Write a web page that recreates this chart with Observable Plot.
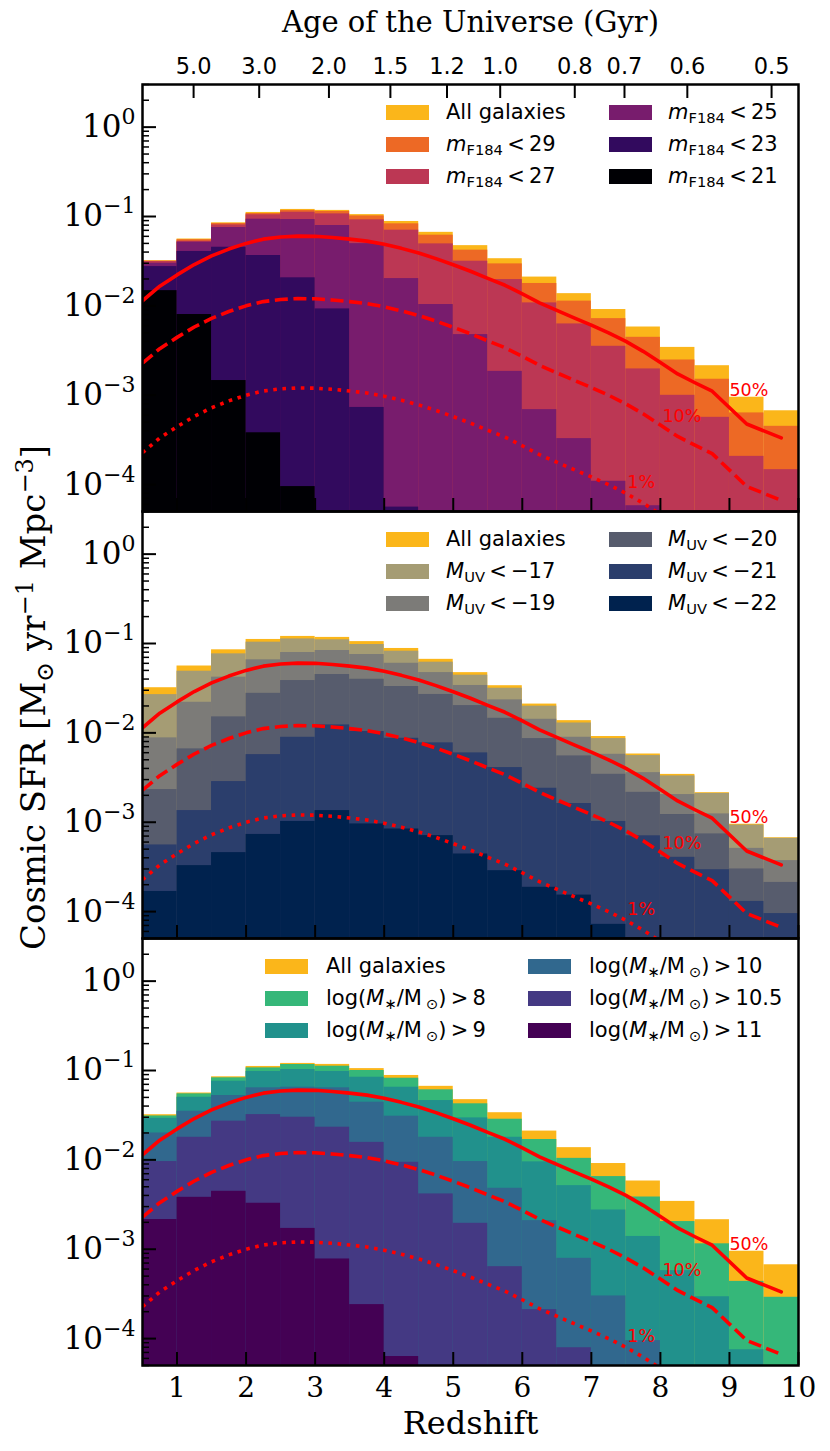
<!DOCTYPE html>
<html><head><meta charset="utf-8">
<script src="https://cdn.jsdelivr.net/npm/d3@7"></script>
<script src="https://cdn.jsdelivr.net/npm/@observablehq/plot@0.6"></script>
<style>
body{margin:0;background:#fff;}
#wrap{position:relative;width:830px;height:1451px;overflow:hidden;}
.leg{position:absolute;font-family:"DejaVu Sans";font-size:21px;line-height:21px;color:#000;white-space:nowrap;}
.sw{position:absolute;width:43px;height:15px;}
.sub{font-size:70%;position:relative;top:0.3em;}
</style></head><body><div id="wrap"></div>
<script>
// ---------- data ----------
const binEdges = [0.5,1.0,1.5,2.0,2.5,3.0,3.5,4.0,4.5,5.0,5.5,6.0,6.5,7.0,7.5,8.0,8.5,9.0,9.5,10.0];
const allGalaxies = [0.032,0.056,0.085,0.111,0.120,0.117,0.105,0.088,0.0665,0.0472,0.0337,0.0210,0.0137,0.0091,0.0058,0.00343,0.00214,0.00095,0.00067];

const mF29 = [0.0317,0.0550,0.0835,0.108,0.117,0.114,0.1015,0.0828,0.0618,0.0420,0.0295,0.0178,0.0113,0.0072,0.00445,0.00248,0.00151,0.000634,0.000449];
const mF27 = [0.0313,0.0529,0.0805,0.1045,0.1117,0.107,0.0918,0.0703,0.0494,0.0316,0.0197,0.0108,0.00628,0.00353,0.00197,0.000998,0.000566,0.000207,0.000147];
const mF25 = [0.0300,0.0516,0.0753,0.0933,0.0925,0.0793,0.0497,0.0202,0.01035,0.00477,0.00185,0.00069,0.000327,0.000109,0.000058,null,null,null,null];
const mF23 = [0.0275,0.0406,0.0453,0.0366,0.0206,0.00925,0.00073,0.000056,null,null,null,null,null,null,null,null,null,null,null];
const mF21 = [0.0148,0.0080,0.00146,0.00038,0.000095,null,null,null,null,null,null,null,null,null,null,null,null,null,null];

const MUV17 = [0.0268,0.0490,0.0766,0.1035,0.1125,0.110,0.0975,0.0820,0.0618,0.0442,0.0316,0.0199,0.0129,0.00863,0.00557,0.0033,0.0021,0.00093,0.00066];
const MUV19 = [0.00879,0.0220,0.0420,0.0657,0.0793,0.0835,0.0753,0.0601,0.0473,0.0339,0.0234,0.0142,0.00893,0.00576,0.00359,0.00204,0.00124,0.00051,0.000372];
const MUV20 = [0.00232,0.00662,0.0151,0.0277,0.0385,0.0450,0.0398,0.0330,0.0269,0.0202,0.01456,0.00863,0.00552,0.00344,0.00216,0.00122,0.00074,0.00030,0.000212];
const MUV21 = [0.000557,0.00135,0.00285,0.00571,0.00893,0.01228,0.01035,0.0087,0.00773,0.00597,0.00409,0.0024,0.00162,0.00102,0.000705,0.000405,0.000294,0.00013,0.000095];
const MUV22 = [0.000168,0.000327,0.000457,0.00073,0.00102,0.00135,0.000957,0.00084,0.000708,0.000441,0.000287,0.000187,0.000153,0.000072,null,null,null,null,null];

const Ms8   = [0.0310,0.0548,0.0828,0.107,0.1167,0.1117,0.100,0.082,0.0608,0.0424,0.0285,0.0169,0.0104,0.0065,0.00384,0.00204,0.00115,0.000437,0.00029];
const Ms9   = [0.0292,0.0502,0.0759,0.0975,0.1026,0.0975,0.0841,0.065,0.0461,0.0295,0.0179,0.0095,0.00515,0.00275,0.00139,0.000576,0.000294,0.000075,null];
const Ms10  = [0.0200,0.0350,0.0525,0.0640,0.0650,0.0640,0.0442,0.0308,0.0179,0.00957,0.00481,0.00209,0.000791,0.00030,0.000095,null,null,null,null];
const Ms105 = [0.00957,0.0179,0.0271,0.0321,0.0300,0.0232,0.0157,0.0094,0.00416,0.00195,0.000638,0.000211,0.000079,null,null,null,null,null,null];
const Ms11  = [0.00215,0.00381,0.00445,0.00327,0.00171,0.000778,0.00024,0.000063,null,null,null,null,null,null,null,null,null,null,null];

// completeness curves (50%, 10%, 1%)
const curveZ   = [0.5,0.75,1.0,1.25,1.5,1.75,2.0,2.25,2.5,2.75,3.0,3.25,3.5,3.75,4.0,4.25,4.5,4.75,5.0,5.25,5.5,5.75,6.0,6.25,6.5,6.75,7.0,7.25,7.5,7.75,8.0,8.25,8.5,8.75,9.25,9.75];
const curve50  = [0.0114,0.0166,0.0222,0.029,0.0362,0.0432,0.050,0.0558,0.0590,0.0603,0.0600,0.0582,0.0558,0.0530,0.0488,0.0440,0.0390,0.0338,0.0288,0.0244,0.0203,0.0170,0.0136,0.0108,0.0089,0.00735,0.0061,0.0050,0.0040,0.0031,0.00232,0.00173,0.00138,0.00111,0.000477,0.000333];
const curve10  = [0.00228,0.00332,0.00444,0.0058,0.00724,0.00864,0.0100,0.01116,0.0118,0.01206,0.0120,0.01164,0.01116,0.0106,0.00976,0.0088,0.0078,0.00676,0.00576,0.00488,0.00406,0.0034,0.00272,0.00216,0.00178,0.00147,0.00122,0.0010,0.0008,0.00062,0.000464,0.000346,0.000276,0.000222,0.0000954,0.0000666];
const curve1   = [0.000228,0.000332,0.000444,0.00058,0.000724,0.000864,0.0010,0.001116,0.00118,0.001206,0.0012,0.001164,0.001116,0.00106,0.000976,0.00088,0.00078,0.000676,0.000576,0.000488,0.000406,0.00034,0.000272,0.000216,0.000178,0.000147,0.000122,0.0001,0.00008,0.000062,0.0000464,0.0000346,0.0000276,0.0000222,0.00000954,0.00000666];

const curveLabels = ["50%","10%","1%"];
const curveLabelX = [9.0, 8.03, 7.52];
const curveLabelY = [0.00113, 0.000582, 0.000105];

// top axis: redshift positions of ages
const ageTickZ = [1.24,2.19,3.20,4.09,4.91,5.68,6.76,7.48,8.39,9.61];
const ageTickLabels = ["5.0","3.0","2.0","1.5","1.2","1.0","0.8","0.7","0.6","0.5"];
const xTicks = [1,2,3,4,5,6,7,8,9,10];
const yMajor = [1e-4,1e-3,1e-2,1e-1,1];

const panels = ["F184","MUV","Mstar"];
const seriesF184 = [allGalaxies,mF29,mF27,mF25,mF23,mF21];
const seriesMUV  = [allGalaxies,MUV17,MUV19,MUV20,MUV21,MUV22];
const seriesMs   = [allGalaxies,Ms8,Ms9,Ms10,Ms105,Ms11];
const colorsF184 = ["#fbb61a","#ed6925","#bc3754","#781c6d","#320a5e","#000004"];
const colorsMUV  = ["#fbb61a","#a59c74","#7c7b78","#575c6d","#2b3e6c","#00224e"];
const colorsMs   = ["#fbb61a","#35b779","#21918c","#31688e","#443983","#440154"];
const sub = s => `<span class="sub">${s}</span>`;
const labelsF184 = ["All galaxies", ...["29","27","25","23","21"].map(v=>`<i>m</i>${sub("F184")}&#8201;&lt;&#8201;${v}`)];
const labelsMUV  = ["All galaxies", ...["−17","−19","−20","−21","−22"].map(v=>`<i>M</i>${sub("UV")}&#8201;&lt;&#8201;${v}`)];
const labelsMs   = ["All galaxies", ...["8","9","10","10.5","11"].map(v=>`log(<i>M</i>${sub("∗")}/M&#8201;${sub("⊙")})&#8201;&gt;&#8201;${v}`)];

// ---------- build tables ----------
const panelDefs = [
  {p:"F184", series:seriesF184, colors:colorsF184, labels:labelsF184, sw:[386,609], tx:[446,668]},
  {p:"MUV",  series:seriesMUV,  colors:colorsMUV,  labels:labelsMUV,  sw:[386,609], tx:[446,668]},
  {p:"Mstar",series:seriesMs,   colors:colorsMs,   labels:labelsMs,   sw:[265,528], tx:[326,589]}
];
const bars = [];
for (const pd of panelDefs) {
  pd.series.forEach((vals, s) => {
    vals.forEach((v, i) => {
      if (v != null) bars.push({panel: pd.p, x1: binEdges[i], x2: binEdges[i+1], base: 1e-7, v, fill: pd.colors[s]});
    });
  });
}
const mk = arr => curveZ.map((z,i)=>({z, v: arr[i]}));
const pct = curveLabels.map((t,i)=>({t, x: curveLabelX[i], y: curveLabelY[i]}));
const ageMap = new Map(ageTickZ.map((z,i)=>[z, ageTickLabels[i]]));
const yMinor = [];
for (let e=-5;e<=0;e++) for (let m=2;m<=9;m++){ const v=m*Math.pow(10,e); if (v>=5e-5 && v<=3) yMinor.push(v); }

const svg = Plot.plot({
  width: 830, height: 1451,
  marginLeft: 142, marginRight: 32, marginTop: 84, marginBottom: 86,
  style: {fontFamily: "DejaVu Serif", background: "white", overflow: "visible", color: "black"},
  x: {domain: [0.5, 10]},
  y: {type: "log", domain: [5e-5, 3]},
  fy: {domain: panels, padding: 0, axis: null},
  color: {type: "identity"},
  marks: [
    Plot.rectY(bars, {x1: "x1", x2: "x2", y1: "base", y2: "v", fill: "fill", fy: "panel", clip: true}),
    Plot.line(mk(curve50), {x: "z", y: "v", stroke: "red", strokeWidth: 3.6, clip: true}),
    Plot.line(mk(curve10), {x: "z", y: "v", stroke: "red", strokeWidth: 3.6, strokeLinecap: "butt", strokeDasharray: "13,5.6", clip: true}),
    Plot.line(mk(curve1), {x: "z", y: "v", stroke: "red", strokeWidth: 3.6, strokeLinecap: "butt", strokeDasharray: "3.6,5.6", clip: true}),
    Plot.text(pct, {x: "x", y: "y", text: "t", fill: "red", textAnchor: "start", fontSize: 17.5, fontFamily: "DejaVu Sans"}),
    // y axis ticks + labels
    Plot.axisY(yMajor, {anchor: "left", tickSize: -14, strokeWidth: 2, fill: "none", label: null}),
    Plot.axisY(yMinor, {anchor: "left", tickSize: -7, strokeWidth: 1.5, fill: "none", label: null}),
    Plot.axisY(yMajor, {anchor: "left", tickSize: 0, tickPadding: 7, fontSize: 31, tickFormat: d => "10^" + Math.round(Math.log10(d)), label: null}),
    // bottom x ticks in every panel, labels in bottom panel
    Plot.axisX(xTicks, {anchor: "bottom", facetAnchor: null, tickSize: -13, strokeWidth: 2, fill: "none", label: null}),
    Plot.axisX(xTicks, {anchor: "bottom", tickSize: 0, tickPadding: 12, fontSize: 28, tickFormat: d => String(d), label: null}),
    // top age axis
    Plot.axisX(ageTickZ, {anchor: "top", tickSize: -13, strokeWidth: 2, fill: "none", label: null}),
    Plot.axisX(ageTickZ, {anchor: "top", tickSize: 0, tickPadding: 11, fontSize: 22.5, fontFamily: "DejaVu Sans", tickFormat: d => ageMap.get(d), label: null}),
    Plot.text([{p: "F184", t: "Age of the Universe (Gyr)"}], {fy: "p", text: "t", frameAnchor: "top", lineAnchor: "bottom", dy: -53, fontSize: 29}),
    Plot.text([{p: "Mstar", t: "Redshift"}], {fy: "p", text: "t", frameAnchor: "bottom", lineAnchor: "bottom", dy: 68, fontSize: 32}),
    Plot.text([{p: "MUV", t: "Cosmic SFR"}], {fy: "p", text: "t", frameAnchor: "left", textAnchor: "middle", rotate: -90, lineAnchor: "middle", dx: -108, dy: -27.5, fontSize: 34}),
    Plot.frame({stroke: "black", strokeWidth: 2.5})
  ]
});

// superscript exponents on y tick labels
d3.select(svg).selectAll('g[aria-label="y-axis tick label"] text').each(function() {
  const t = this.textContent;
  const exp = t.split("^")[1].replace("-", "−");
  const sel = d3.select(this);
  sel.text(null);
  sel.append("tspan").text("10");
  sel.append("tspan").attr("dy", "-13").attr("font-size", "22px").text(exp);
});
// full y-axis label with sub/superscripts
d3.select(svg).selectAll("text").filter(function(){ return this.textContent === "Cosmic SFR"; }).each(function() {
  const sel = d3.select(this).attr("xml:space", "preserve").style("white-space", "pre");
  sel.text(null);
  const parts = [
    ["Cosmic SFR [M", 0, null], ["⊙", 8, "24px"], [" yr", -8, null], ["−1", -12, "24px"],
    [" Mpc", 12, null], ["−3", -12, "24px"], ["]", 12, null]
  ];
  for (const [s, dy, fs] of parts) {
    const ts = sel.append("tspan").text(s);
    if (dy) ts.attr("dy", dy);
    if (fs) ts.attr("font-size", fs);
  }
});

const wrap = document.getElementById("wrap");
wrap.appendChild(svg);

// legends
const rowY = [28.5, 60.5, 92.5];
panelDefs.forEach((pd, k) => {
  const top = 84 + 427 * k;
  pd.labels.forEach((lab, j) => {
    const col = Math.floor(j / 3), row = j % 3;
    const cy = top + rowY[row];
    const sw = document.createElement("div");
    sw.className = "sw";
    sw.style.left = pd.sw[col] + "px";
    sw.style.top = (cy - 7.5) + "px";
    sw.style.background = pd.colors[j];
    wrap.appendChild(sw);
    const tx = document.createElement("div");
    tx.className = "leg";
    tx.style.left = pd.tx[col] + "px";
    tx.style.top = (cy - 11) + "px";
    tx.innerHTML = lab;
    wrap.appendChild(tx);
  });
});
</script>
</body></html>
